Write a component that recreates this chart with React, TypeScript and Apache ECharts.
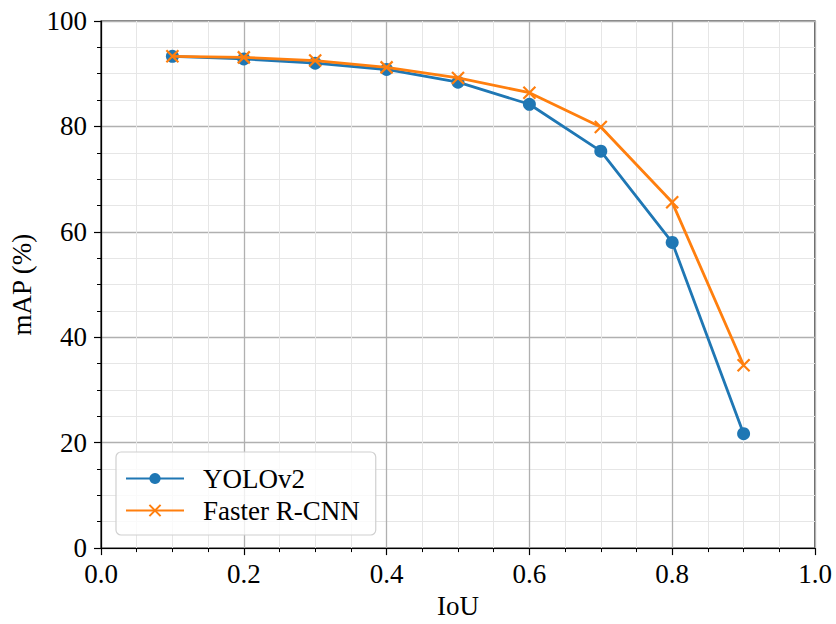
import React, { useEffect, useRef } from "react";
import * as echarts from "echarts";

const iouThresholds = [0.1, 0.2, 0.3, 0.4, 0.5, 0.6, 0.7, 0.8, 0.9];
const yoloMap = [93.3, 92.8, 92.0, 90.8, 88.4, 84.2, 75.3, 58.0, 21.7];
const fasterRcnnMap = [93.3, 93.1, 92.5, 91.2, 89.2, 86.4, 79.9, 65.6, 34.7];
const seriesNames = ["YOLOv2", "Faster R-CNN"];

const FONT = "'Liberation Serif', 'DejaVu Serif', serif";
const CROSS = "path://M0,0 L10,10 M10,0 L0,10";

export default function App() {
  const ref = useRef<HTMLDivElement>(null);

  useEffect(() => {
    if (!ref.current) return;
    const chart = echarts.init(ref.current, undefined, { renderer: "svg" });

    const axisCommon = {
      axisLine: { show: true, onZero: false, lineStyle: { color: "#000", width: 1.2 } },
      axisTick: { show: true, inside: false, length: 7, lineStyle: { color: "#000", width: 1.2 } },
      minorTick: { show: true, splitNumber: 4, length: 4, lineStyle: { color: "#000", width: 1 } },
      splitLine: { show: true, lineStyle: { color: "#b0b0b0", width: 1.3 } },
      minorSplitLine: { show: true, lineStyle: { color: "#e6e6e6", width: 1 } },
      nameTextStyle: { fontFamily: FONT, fontSize: 27, color: "#000" },
    };

    chart.setOption({
      animation: false,
      backgroundColor: "#fff",
      grid: {
        left: 101,
        right: 21,
        top: 21,
        bottom: 71,
        show: true,
        borderColor: "#000",
        borderWidth: 1.2,
        backgroundColor: "transparent",
      },
      xAxis: {
        type: "value",
        min: 0,
        max: 1,
        interval: 0.2,
        name: "IoU",
        nameLocation: "middle",
        nameGap: 41,
        ...axisCommon,
        axisLabel: {
          margin: 12,
          fontFamily: FONT,
          fontSize: 27,
          color: "#000",
          formatter: (v: number) => v.toFixed(1),
        },
      },
      yAxis: {
        type: "value",
        min: 0,
        max: 100,
        interval: 20,
        name: "mAP (%)",
        nameLocation: "middle",
        nameGap: 54,
        ...axisCommon,
        axisLabel: {
          margin: 14,
          fontFamily: FONT,
          fontSize: 27,
          color: "#000",
        },
      },
      legend: {
        orient: "vertical",
        left: 116,
        top: 452,
        data: seriesNames,
        itemWidth: 58,
        itemHeight: 14,
        itemGap: 5,
        padding: [13, 16, 11, 9],
        backgroundColor: "rgba(255,255,255,0.8)",
        borderColor: "#d0d0d0",
        borderWidth: 1.2,
        borderRadius: 5,
        textStyle: { fontFamily: FONT, fontSize: 27, color: "#000", padding: [0, 0, 0, 14] },
      },
      series: [
        {
          name: seriesNames[0],
          type: "line",
          data: iouThresholds.map((x, i) => [x, yoloMap[i]]),
          symbol: "circle",
          symbolSize: 13,
          lineStyle: { color: "#1f77b4", width: 2.8 },
          itemStyle: { color: "#1f77b4" },
          z: 3,
        },
        {
          name: seriesNames[1],
          type: "line",
          data: iouThresholds.map((x, i) => [x, fasterRcnnMap[i]]),
          symbol: CROSS,
          symbolSize: 12,
          lineStyle: { color: "#ff7f0e", width: 2.8 },
          itemStyle: { color: "none", borderColor: "#ff7f0e", borderWidth: 2.2 },
          z: 4,
        },
      ],
    });

    return () => chart.dispose();
  }, []);

  return (
    <div
      ref={ref}
      style={{ position: "absolute", left: 0, top: 0, width: 836, height: 624 }}
    />
  );
}
